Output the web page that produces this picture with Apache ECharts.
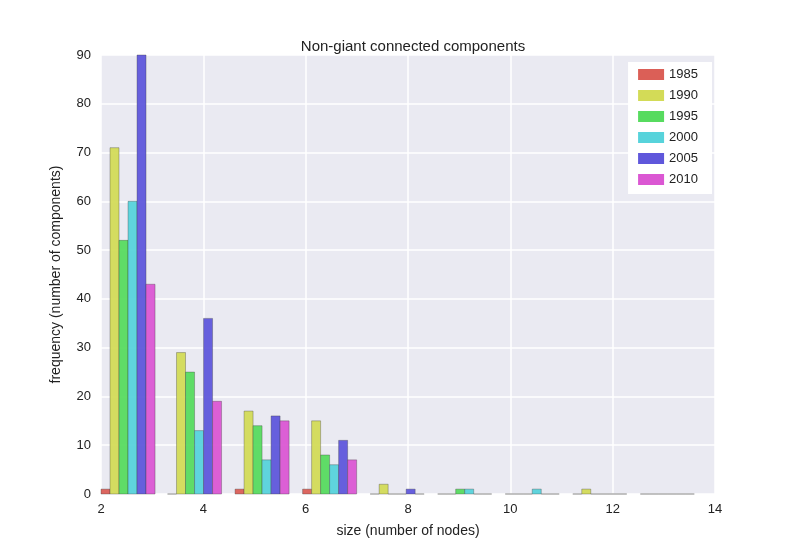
<!DOCTYPE html>
<html>
<head>
<meta charset="utf-8">
<script src="https://cdn.jsdelivr.net/npm/echarts@6/dist/echarts.min.js"></script>
<style>html,body{margin:0;background:#fff}#chart{width:800px;height:550px}</style>
</head>
<body>
<div id="chart"></div>
<script>
// bin left edges (hist with 9 bins)
var binStarts = [2, 3.3, 4.62, 5.94, 7.26, 8.58, 9.9, 11.22, 12.54];
var binWidth = 1.32;
var years = ['1985', '1990', '1995', '2000', '2005', '2010'];
var colors = ['#db5f57', '#d3db57', '#57db5f', '#57d3db', '#5f57db', '#db57d3'];
var v1985 = [1, 0, 1, 1, 0, 0, 0, 0, 0];
var v1990 = [71, 29, 17, 15, 2, 0, 0, 1, 0];
var v1995 = [52, 25, 14, 8, 0, 1, 0, 0, 0];
var v2000 = [60, 13, 7, 6, 0, 1, 1, 0, 0];
var v2005 = [90, 36, 16, 11, 1, 0, 0, 0, 0];
var v2010 = [43, 19, 15, 7, 0, 0, 0, 0, 0];
var values = [v1985, v1990, v1995, v2000, v2005, v2010];
var xTicks = [2, 4, 6, 8, 10, 12, 14];
var yTicks = [0, 10, 20, 30, 40, 50, 60, 70, 80, 90];

var barW = binWidth * 0.8 / years.length;
var FONT = 'Liberation Sans, Arial, sans-serif';

var series = years.map(function(y, si) {
	return {
		name: y,
		type: 'custom',
		itemStyle: { color: colors[si] },
		renderItem: function(params, api) {
			var x0 = api.value(0) + si * barW;
			var p0 = api.coord([x0, 0]);
			var p1 = api.coord([x0 + barW, api.value(1)]);
			return {
				type: 'rect',
				shape: { x: p0[0], y: p1[1], width: p1[0] - p0[0], height: p0[1] - p1[1] },
				style: { fill: colors[si], opacity: 0.95, stroke: 'rgba(60,60,60,0.6)', lineWidth: 0.6 }
			};
		},
		data: binStarts.map(function(b, i) { return [b, values[si][i]]; })
	};
});

var chart = echarts.init(document.getElementById('chart'));
chart.setOption({
	animation: false,
	backgroundColor: '#fff',
	title: {
		text: 'Non-giant connected components', left: 408, top: 34, textAlign: 'center',
		textStyle: { fontFamily: FONT, fontSize: 15, fontWeight: 'normal', color: '#222' }
	},
	legend: {
		data: years, orient: 'vertical', right: 88, top: 62,
		itemWidth: 26, itemHeight: 11, itemGap: 8,
		backgroundColor: '#fff', padding: [6, 14, 8, 10],
		textStyle: { fontFamily: FONT, fontSize: 13, color: '#222' },
		icon: 'rect'
	},
	grid: { left: 101, right: 85, top: 55, bottom: 56, backgroundColor: '#eaeaf2', show: true, borderWidth: 0 },
	xAxis: {
		type: 'value', min: 2, max: 14, interval: 2,
		name: 'size (number of nodes)', nameLocation: 'middle', nameGap: 30,
		nameTextStyle: { fontFamily: FONT, fontSize: 14, color: '#222' },
		axisLine: { show: false }, axisTick: { show: false },
		axisLabel: { fontFamily: FONT, fontSize: 13, color: '#222', margin: 9,
			formatter: function(v) { return xTicks.indexOf(v) >= 0 ? v : ''; } },
		splitLine: { lineStyle: { color: '#fff', width: 1.5 } }
	},
	yAxis: {
		type: 'value', min: 0, max: 90, interval: 10,
		name: 'frequency (number of components)', nameLocation: 'middle', nameGap: 38,
		nameTextStyle: { fontFamily: FONT, fontSize: 14, color: '#222' },
		axisLine: { show: false }, axisTick: { show: false },
		axisLabel: { fontFamily: FONT, fontSize: 13, color: '#222', margin: 10,
			formatter: function(v) { return yTicks.indexOf(v) >= 0 ? v : ''; } },
		splitLine: { lineStyle: { color: '#fff', width: 1.5 } }
	},
	series: series
});
</script>
</body>
</html>
